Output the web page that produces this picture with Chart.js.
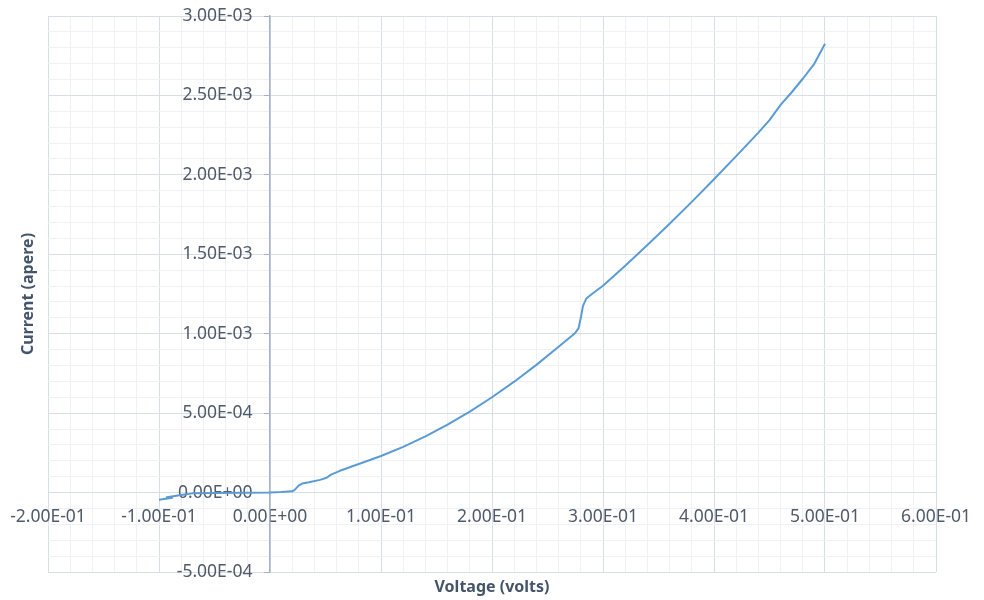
<!DOCTYPE html>
<html>
<head>
<meta charset="utf-8">
<title>Current vs Voltage</title>
<script src="https://cdn.jsdelivr.net/npm/chart.js@4.4.1/dist/chart.umd.min.js"></script>
<style>
    html, body { margin: 0; padding: 0; background: #ffffff; }
    #wrap { width: 984px; height: 600px; position: relative; }
</style>
</head>
<body>
<div id="wrap"><canvas id="iv-chart"></canvas></div>
<script>
// I-V curve, values

const voltage = [
    -0.100, -0.088, -0.093, -0.080, -0.070, -0.050, -0.025, 0.000, 0.010, 0.020,
    0.022, 0.026, 0.029, 0.035, 0.045, 0.051, 0.055, 0.063, 0.080, 0.100,
    0.120, 0.140, 0.160, 0.180, 0.200, 0.220, 0.240, 0.260, 0.275, 0.278,
    0.280, 0.282, 0.285, 0.290, 0.300, 0.320, 0.340, 0.360, 0.380, 0.400,
    0.420, 0.440, 0.450, 0.460, 0.470, 0.480, 0.490, 0.500
];
const current = [
    -4.5e-5, -3.2e-5, -3.0e-5, -1.5e-5, -5e-6, -2e-6, -1e-6, 0, 3e-6, 8e-6,
    1.5e-5, 4.5e-5, 5.7e-5, 6.5e-5, 8.0e-5, 9.3e-5, 1.13e-4, 1.37e-4, 1.80e-4, 2.30e-4,
    2.88e-4, 3.54e-4, 4.28e-4, 5.10e-4, 6.00e-4, 6.98e-4, 8.04e-4, 9.18e-4, 1.005e-3, 1.035e-3,
    1.10e-3, 1.175e-3, 1.222e-3, 1.250e-3, 1.302e-3, 1.428e-3, 1.558e-3, 1.692e-3, 1.830e-3, 1.972e-3,
    2.118e-3, 2.266e-3, 2.345e-3, 2.440e-3, 2.520e-3, 2.605e-3, 2.695e-3, 2.825e-3
];

const xMajorTicks = [-0.2, -0.1, 0, 0.1, 0.2, 0.3, 0.4, 0.5, 0.6];
const yMajorTicks = [-0.0005, 0, 0.0005, 0.001, 0.0015, 0.002, 0.0025, 0.003];
const minorSteps = 5;

const xTitle = 'Voltage (volts)';
const yTitle = 'Current (apere)';

const FONT = 'Noto Sans';
const TEXT = '#505a6b';
const TITLE = '#44546a';
const MAJOR_GRID = '#d9dde5';
const MINOR_GRID = '#f0f1f4';
const AXIS_LINE = '#a7b1c6';

// Excel style "0.00E+00"
function sci(v) {
    if (Math.abs(v) < 1e-12) v = 0;
    const parts = v.toExponential(2).split('e');
    let exp = parseInt(parts[1], 10);
    const sign = exp < 0 ? '-' : '+';
    exp = Math.abs(exp);
    return parts[0] + 'E' + sign + (exp < 10 ? '0' + exp : '' + exp);
}

function withMinor(majors) {
    const out = [];
    for (let i = 0; i < majors.length; i++) {
        out.push({ value: majors[i], major: true });
        if (i < majors.length - 1) {
            const a = majors[i], b = majors[i + 1];
            for (let k = 1; k < minorSteps; k++) {
                out.push({ value: a + (b - a) * k / minorSteps, major: false });
            }
        }
    }
    return out;
}

const axisTitles = {
    id: 'axisTitles',
    afterDraw(chart) {
        const ctx = chart.ctx;
        const area = chart.chartArea;
        ctx.save();
        ctx.fillStyle = TITLE;
        ctx.font = 'bold 16px "' + FONT + '"';
        ctx.textAlign = 'center';
        ctx.textBaseline = 'middle';
        ctx.fillText(xTitle, (area.left + area.right) / 2, 587);
        ctx.translate(28, (area.top + area.bottom) / 2);
        ctx.rotate(-Math.PI / 2);
        ctx.fillText(yTitle, 0, 0);
        ctx.restore();
    }
};

document.addEventListener('DOMContentLoaded', function () {
    const points = voltage.map((v, i) => ({ x: v, y: current[i] }));
    const ctx = document.getElementById('iv-chart').getContext('2d');

    new Chart(ctx, {
        type: 'scatter',
        data: {
            datasets: [{
                data: points,
                showLine: true,
                borderColor: '#5b9bd5',
                borderWidth: 2,
                borderJoinStyle: 'round',
                pointRadius: 0,
                pointHoverRadius: 0,
                tension: 0,
                fill: false
            }]
        },
        options: {
            responsive: true,
            maintainAspectRatio: false,
            animation: false,
            events: [],
            devicePixelRatio: 1,
            layout: { padding: { left: 48, right: 48, top: 16, bottom: 28 } },
            plugins: {
                legend: { display: false },
                tooltip: { enabled: false }
            },
            scales: {
                x: {
                    type: 'linear',
                    position: { y: 0 },
                    min: xMajorTicks[0],
                    max: xMajorTicks[xMajorTicks.length - 1],
                    afterBuildTicks: scale => { scale.ticks = withMinor(xMajorTicks); },
                    // the axis sits inside the plot, so its labels should not shrink it
                    afterFit: scale => { scale.paddingLeft = 0; scale.paddingRight = 0; },
                    ticks: {
                        autoSkip: false,
                        maxRotation: 0,
                        minRotation: 0,
                        padding: 14,
                        color: TEXT,
                        font: { family: FONT, size: 17.5 },
                        callback: (value, index, ticks) => ticks[index].major ? sci(value) : ''
                    },
                    grid: {
                        drawTicks: false,
                        lineWidth: 1,
                        color: c => (c.tick && c.tick.major) ? MAJOR_GRID : MINOR_GRID
                    },
                    border: { color: MAJOR_GRID, width: 1 }
                },
                y: {
                    type: 'linear',
                    position: { x: 0 },
                    min: yMajorTicks[0],
                    max: yMajorTicks[yMajorTicks.length - 1],
                    afterBuildTicks: scale => { scale.ticks = withMinor(yMajorTicks); },
                    afterFit: scale => { scale.paddingTop = 0; scale.paddingBottom = 0; },
                    ticks: {
                        autoSkip: false,
                        padding: 0,
                        color: TEXT,
                        font: { family: FONT, size: 17.5 },
                        // en spaces keep the label clear of the axis line
                        callback: (value, index, ticks) => ticks[index].major ? sci(value) + '\u2002\u2002' : ''
                    },
                    grid: {
                        drawTicks: true,
                        tickLength: 5,
                        lineWidth: 1,
                        color: c => (c.tick && c.tick.major) ? MAJOR_GRID : MINOR_GRID,
                        tickColor: c => (c.tick && c.tick.major) ? AXIS_LINE : 'rgba(0,0,0,0)'
                    },
                    border: { color: AXIS_LINE, width: 1.5 }
                }
            }
        },
        plugins: [axisTitles]
    });
});
</script>
</body>
</html>
